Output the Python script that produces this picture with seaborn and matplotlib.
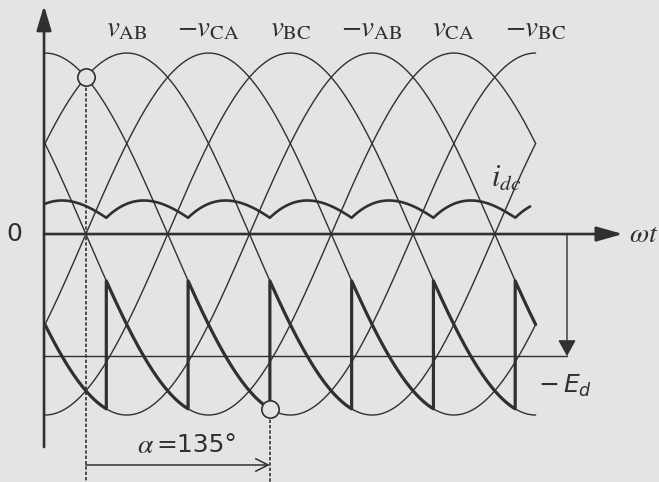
import numpy as np
import pandas as pd
import matplotlib
matplotlib.use("Agg")
import matplotlib.pyplot as plt
from matplotlib.patches import FancyArrowPatch
import seaborn as sns

# Line-to-line voltages, each named with the angle (deg) of its positive peak
phase_names = [r"$v_{\mathrm{AB}}$", r"$-v_{\mathrm{CA}}$", r"$v_{\mathrm{BC}}$",
               r"$-v_{\mathrm{AB}}$", r"$v_{\mathrm{CA}}$", r"$-v_{\mathrm{BC}}$"]
peak_angles = [60, 120, 180, 240, 300, 360]
firing_angle = 135        # alpha, from the natural commutation point
back_emf = 0.675          # E_d in per-unit of the peak line voltage
idc_minimum = 0.09        # dc current at each firing instant
wave_span = [0, 360]      # drawn range of the voltages (deg)
idc_span = [0, 356]       # drawn range of the dc current (deg)
emf_line_end = 383        # where the -E_d level line and its arrow sit (deg)

bg = "#e4e4e4"
ink = "#303030"

sns.set_theme(style="white")
plt.rcParams["mathtext.fontset"] = "stix"
plt.rcParams["font.family"] = ["DejaVu Sans"]

theta = np.linspace(wave_span[0], wave_span[1], 1441)

# --- the six phase voltages ---
frames = []
for name, pk in zip(phase_names, peak_angles):
    frames.append(pd.DataFrame({"theta": theta,
                                "v": np.cos(np.radians(theta - pk)),
                                "phase": name}))
waves = pd.concat(frames, ignore_index=True)

# --- rectifier output: each phase conducts 60 deg after being fired ---
segments = []
for pk in peak_angles:
    for shift in (-360, 0):
        start = pk + shift - 30 + firing_angle
        end = start + 60
        a, b = max(start, wave_span[0]), min(end, wave_span[1])
        if b > a:
            segments.append((a, b, pk + shift, start))
segments.sort()
vd_theta, vd_val = [], []
idc_theta, idc_val = [], []
for a, b, pk, start in segments:
    t = np.linspace(a, b, 200)
    vd_theta.extend(t)
    vd_val.extend(np.cos(np.radians(t - pk)))
    # inductor current: grows with the area of (v_d + E_d) since firing
    tc = t[t <= idc_span[1]]
    if tc.size:
        cur = (idc_minimum + np.sin(np.radians(tc - pk)) - np.sin(np.radians(start - pk))
               + back_emf * np.radians(tc - start))
        idc_theta.extend(tc)
        idc_val.extend(cur)
vd = pd.DataFrame({"theta": vd_theta, "v": vd_val})
idc = pd.DataFrame({"theta": idc_theta, "i": idc_val})

fig = plt.figure(figsize=(6.59, 4.82), dpi=100)
fig.patch.set_facecolor(bg)
ax = fig.add_axes([0, 0, 1, 1])
ax.set_facecolor(bg)
ax.set_xlim(-33, 450.5)
ax.set_ylim(-1.370, 1.293)
ax.axis("off")

sns.lineplot(data=waves, x="theta", y="v", units="phase", estimator=None,
             sort=False, color=ink, lw=1.0, legend=False, ax=ax)
sns.lineplot(data=vd, x="theta", y="v", estimator=None, sort=False,
             color=ink, lw=2.3, legend=False, ax=ax)
sns.lineplot(data=idc, x="theta", y="i", estimator=None, sort=False,
             color=ink, lw=1.9, legend=False, ax=ax)

# -E_d level
ax.plot([0, emf_line_end], [-back_emf, -back_emf], color=ink, lw=1.0)


def arrow(p0, p1, style, lw, ms):
    ax.add_patch(FancyArrowPatch(p0, p1, arrowstyle=style, lw=lw, color=ink,
                                 mutation_scale=ms, shrinkA=0, shrinkB=0,
                                 zorder=4))


# axes
arrow((-0.7, -1.177), (-0.7, 1.262), "-|>,head_length=1.5,head_width=0.45", 1.9, 10)
arrow((-0.7, 0), (424, 0), "-|>,head_length=1.6,head_width=0.45", 1.9, 10)
arrow((emf_line_end, 0), (emf_line_end, -back_emf),
      "-|>,head_length=1.0,head_width=0.55", 1.0, 10)

# commutation point and firing point
nat_point = 30
fire_point = nat_point + firing_angle
y_nat = np.cos(np.radians(nat_point - 60))
y_fire = np.cos(np.radians(fire_point - 360))
ax.plot([nat_point, nat_point], [y_nat, -1.40], color=ink, lw=1.2,
        ls=(0, (2.0, 1.2)), zorder=3)
ax.plot([fire_point, fire_point], [y_fire, -1.40], color=ink, lw=1.2,
        ls=(0, (2.0, 1.2)), zorder=3)
ax.plot([nat_point, fire_point], [y_nat, y_fire], ls="none", marker="o",
        ms=12.5, mfc=bg, mec=ink, mew=1.2, zorder=5)

# alpha dimension arrow
arrow((nat_point, -1.276), (fire_point, -1.276), "->,head_length=0.9,head_width=0.45", 1.1, 10)
ax.text(73.5, -1.166, r"$\alpha$", fontsize=20, ha="center", va="center", color=ink)
ax.text(82, -1.166, "=135°", fontsize=18, ha="left", va="center", color=ink)

# labels
for name, pk in zip(phase_names, peak_angles):
    ax.text(pk, 1.14, name, fontsize=21, ha="center", va="center", color=ink)
ax.text(-22.5, 0.0, "0", fontsize=18, ha="center", va="center", color=ink)
ax.text(428.5, 0.0, r"$\omega t$", fontsize=20, ha="left", va="center", color=ink)
ax.text(327.5, 0.31, r"$i_{dc}$", fontsize=22, ha="left", va="center", color=ink)
ax.text(362, -0.84, r"$-\,E_d$", fontsize=18, ha="left", va="center", color=ink,
        math_fontfamily="dejavusans")

fig.savefig("out.png", dpi=100, facecolor=bg)
